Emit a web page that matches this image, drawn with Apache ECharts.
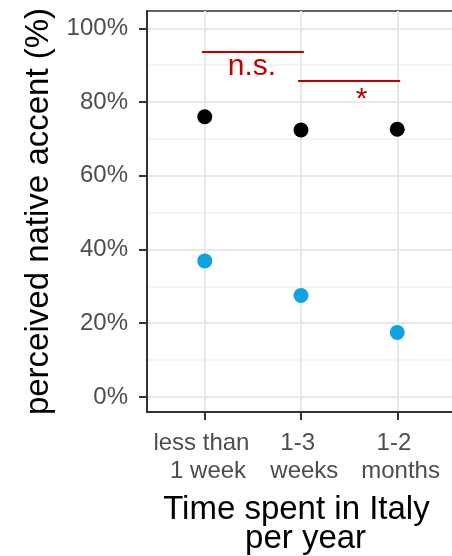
<!DOCTYPE html>
<html>
<head>
<meta charset="utf-8">
<script src="https://cdn.jsdelivr.net/npm/echarts@6/dist/echarts.min.js"></script>
<style>
  html, body { margin: 0; padding: 0; background: #fff; }
  #chart { width: 452px; height: 556px; }
</style>
</head>
<body>
<div id="chart"></div>
<script>
// data
const groups = ['less than \n 1 week', '1-3 \n weeks', '1-2 \n months']
const groupPos = [1, 2, 3]
const nativeVals = [76.0, 72.4, 72.6]
const learnerVals = [36.9, 27.5, 17.5]
const yTicks = [0, 20, 40, 60, 80, 100]
const yMinorTicks = [10, 30, 50, 70, 90]
// significance brackets
const nsLine = [[0.97, 93.6], [2.03, 93.6]]
const starLine = [[1.97, 85.7], [3.03, 85.7]]
const sigLabels = ['n.s.', '*']
const sigLabelPos = [[1.49, 89.6], [2.63, 80.5]]

const font = '"Liberation Sans", Arial, sans-serif'
const red = '#C00000'

let chart = echarts.init(document.getElementById('chart'))

const yBase = {
  type: 'value',
  min: -4.1,
  max: 104.7
}

chart.setOption({
  animation: false,
  grid: {
    left: 147,
    right: -3,
    top: 11,
    bottom: 144,
    containLabel: false,
    outerBoundsMode: 'none',
    show: true,
    borderColor: '#333',
    borderWidth: 1.5,
    backgroundColor: 'transparent'
  },
  xAxis: {
    type: 'value',
    min: 0.4,
    max: 3.6,
    name: 'Time spent in Italy \n per year',
    nameLocation: 'middle',
    nameGap: 83,
    nameTextStyle: { fontFamily: font, fontSize: 33, color: '#000', lineHeight: 29 },
    axisLine: { show: true, onZero: false, lineStyle: { color: '#333', width: 2 } },
    axisTick: { show: true, length: 8, customValues: groupPos, lineStyle: { color: '#333', width: 2 } },
    axisLabel: {
      customValues: groupPos,
      margin: 17,
      fontFamily: font,
      fontSize: 24,
      lineHeight: 28,
      color: '#4D4D4D',
      formatter: v => groups[groupPos.indexOf(v)]
    },
    splitLine: { show: true, lineStyle: { color: '#E8E8E8', width: 2 } }
  },
  yAxis: [
    Object.assign({}, yBase, {
      name: 'perceived native accent (%)',
      nameLocation: 'middle',
      nameGap: 88,
      nameTextStyle: { fontFamily: font, fontSize: 33, color: '#000' },
      axisLine: { show: true, lineStyle: { color: '#333', width: 2 } },
      axisTick: { show: true, length: 8, customValues: yTicks, lineStyle: { color: '#333', width: 2 } },
      axisLabel: {
        customValues: yTicks,
        margin: 19,
        fontFamily: font,
        fontSize: 24,
        color: '#4D4D4D',
        formatter: v => v + '%'
      },
      splitLine: { show: true, lineStyle: { color: '#E8E8E8', width: 2 } }
    }),
    Object.assign({}, yBase, {
      show: true,
      axisLine: { show: false },
      axisTick: { show: false, customValues: yMinorTicks },
      axisLabel: { show: false, customValues: yMinorTicks },
      splitLine: { show: true, lineStyle: { color: '#F0F0F0', width: 1.5 } }
    })
  ],
  series: [
    {
      type: 'scatter',
      symbolSize: 15,
      itemStyle: { color: '#000', opacity: 1 },
      data: groupPos.map((x, i) => [x, nativeVals[i]])
    },
    {
      type: 'scatter',
      symbolSize: 15,
      itemStyle: { color: '#0FA4DF', opacity: 1 },
      data: groupPos.map((x, i) => [x, learnerVals[i]])
    },
    {
      type: 'line',
      symbol: 'none',
      lineStyle: { color: red, width: 2 },
      data: nsLine
    },
    {
      type: 'line',
      symbol: 'none',
      lineStyle: { color: red, width: 2 },
      data: starLine
    },
    {
      type: 'scatter',
      symbolSize: 0,
      itemStyle: { opacity: 1 },
      label: {
        show: true,
        position: 'inside',
        formatter: p => p.name,
        fontFamily: font,
        fontSize: 30,
        color: red
      },
      data: sigLabels.map((s, i) => ({ name: s, value: sigLabelPos[i] }))
    }
  ]
})
</script>
</body>
</html>
